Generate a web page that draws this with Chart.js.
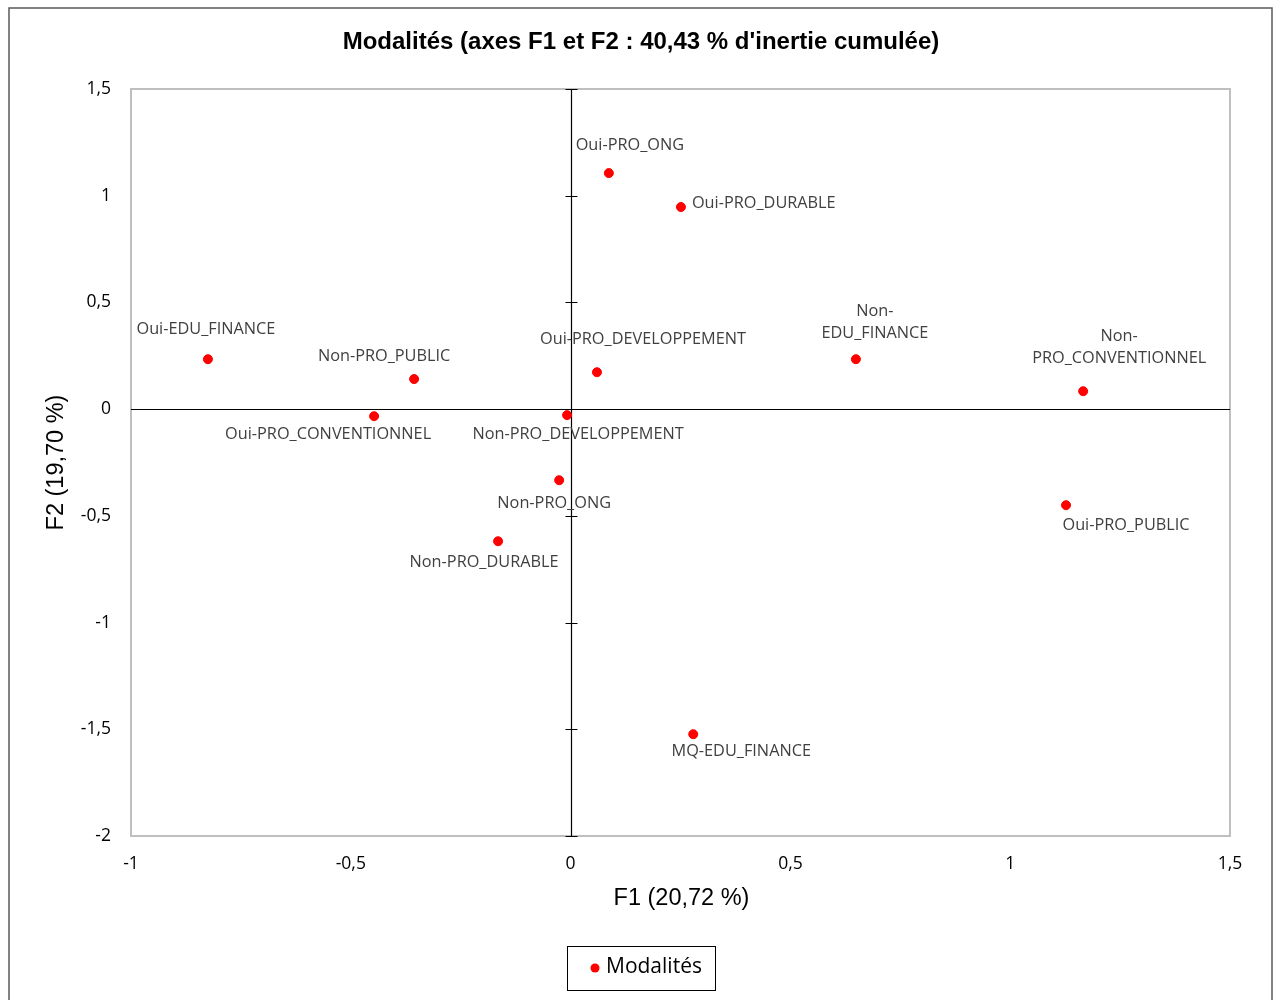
<!DOCTYPE html>
<html>
<head>
<meta charset="utf-8">
<script src="https://cdn.jsdelivr.net/npm/chart.js@4.4.1/dist/chart.umd.min.js"></script>
<style>
  html, body { margin: 0; padding: 0; background: #fff; }
  #wrap { width: 1273px; height: 1000px; position: relative; }
</style>
</head>
<body>
<div id="wrap"><canvas id="modalitesChart" width="1273" height="1000"></canvas></div>
<script>
// --- Data ---
const labels = [
    'Oui-PRO_ONG', 'Oui-PRO_DURABLE', 'Oui-EDU_FINANCE', 'Non-PRO_PUBLIC',
    'Oui-PRO_DEVELOPPEMENT', 'Non-EDU_FINANCE', 'Non-PRO_CONVENTIONNEL',
    'Oui-PRO_CONVENTIONNEL', 'Non-PRO_DEVELOPPEMENT', 'Non-PRO_ONG',
    'Non-PRO_DURABLE', 'Oui-PRO_PUBLIC', 'MQ-EDU_FINANCE'
];
const f1 = [0.087, 0.251, -0.825, -0.356, 0.060, 0.649, 1.166, -0.447, -0.008, -0.026, -0.165, 1.127, 0.279];
const f2 = [1.106, 0.947, 0.234, 0.141, 0.173, 0.234, 0.084, -0.033, -0.028, -0.333, -0.619, -0.450, -1.523];
const xTicks = [-1, -0.5, 0, 0.5, 1, 1.5];
const yTicks = [-2, -1.5, -1, -0.5, 0, 0.5, 1, 1.5];

// label placement (px offset of label centre from point), one line per entry
const labelPlacement = [
    [21, -28], [11, -4, 'left'], [-2, -30], [-30, -23],
    [46, -33], [19, -37], [36, -44],
    [-46, 18], [11, 19], [-5, 23],
    [-14, 21], [60, 20], [48, 17]
];

const fmt = v => String(v).replace('.', ',');
const LABEL_FONT = '16.3px "Open Sans", sans-serif';

// --- Plugin: frame, axes through origin, point labels, titles, legend ---
const decorations = {
    id: 'decorations',
    beforeDraw(chart) {
        const { ctx, chartArea: a } = chart;
        ctx.save();
        ctx.fillStyle = '#fff';
        ctx.fillRect(0, 0, chart.width, chart.height);
        ctx.strokeStyle = '#595959';
        ctx.lineWidth = 1.5;
        ctx.strokeRect(9, 8, 1263, 1100);
        ctx.strokeStyle = '#bfbfbf';
        ctx.lineWidth = 2;
        ctx.strokeRect(a.left, a.top, a.right - a.left, a.bottom - a.top);

        const xs = chart.scales.x, ys = chart.scales.y;
        const x0 = Math.round(xs.getPixelForValue(0)) + 0.5;
        const y0 = Math.round(ys.getPixelForValue(0)) + 0.5;
        ctx.strokeStyle = '#000';
        ctx.lineWidth = 1.2;
        ctx.beginPath();
        ctx.moveTo(a.left, y0); ctx.lineTo(a.right, y0);
        ctx.moveTo(x0, a.top); ctx.lineTo(x0, a.bottom);
        yTicks.forEach(v => {
            const y = Math.round(ys.getPixelForValue(v)) + 0.5;
            ctx.moveTo(x0 - 6, y); ctx.lineTo(x0 + 6, y);
        });
        ctx.stroke();
        ctx.restore();
    },
    afterDatasetsDraw(chart) {
        const { ctx } = chart;
        const meta = chart.getDatasetMeta(0);
        ctx.save();
        ctx.font = LABEL_FONT;
        ctx.fillStyle = '#404040';
        ctx.textBaseline = 'middle';
        meta.data.forEach((pt, i) => {
            const [dx, dy, align] = labelPlacement[i];
            const text = labels[i];
            ctx.textAlign = align || 'center';
            const x = pt.x + dx, y = pt.y + dy;
            if (dy < -35) {
                // wrapped after the hyphen, like the original
                const cut = text.indexOf('-') + 1;
                ctx.fillText(text.slice(0, cut), x, y - 11);
                ctx.fillText(text.slice(cut), x, y + 11);
            } else {
                ctx.fillText(text, x, y);
            }
        });
        ctx.restore();
    },
    afterDraw(chart) {
        const { ctx, chartArea: a } = chart;
        ctx.save();
        ctx.fillStyle = '#000';
        ctx.textAlign = 'center';
        ctx.textBaseline = 'middle';
        ctx.font = 'bold 24px "Liberation Sans", Arial, sans-serif';
        ctx.fillText("Modalités (axes F1 et F2 : 40,43 % d'inertie cumulée)", 641, 42);

        ctx.font = '23.5px "Liberation Sans", Arial, sans-serif';
        ctx.fillText('F1 (20,72 %)', (a.left + a.right) / 2 + 1, 899);
        ctx.save();
        ctx.translate(57, (a.top + a.bottom) / 2);
        ctx.rotate(-Math.PI / 2);
        ctx.fillText('F2 (19,70 %)', 0, 0);
        ctx.restore();

        // legend box
        ctx.strokeStyle = '#000';
        ctx.lineWidth = 1;
        ctx.strokeRect(567.5, 946.5, 148, 44);
        ctx.fillStyle = '#ff0000';
        ctx.beginPath();
        ctx.arc(595, 968, 4.5, 0, Math.PI * 2);
        ctx.fill();
        ctx.fillStyle = '#000';
        ctx.textAlign = 'left';
        ctx.font = '21px "Open Sans", sans-serif';
        ctx.fillText('Modalités', 606, 967);
        ctx.restore();
    }
};

const points = f1.map((x, i) => ({ x, y: f2[i] }));

new Chart(document.getElementById('modalitesChart'), {
    type: 'scatter',
    data: {
        datasets: [{
            label: 'Modalités',
            data: points,
            backgroundColor: '#ff0000',
            borderColor: '#ff0000',
            pointRadius: 4.5,
            pointHoverRadius: 4.5
        }]
    },
    options: {
        responsive: false,
        animation: false,
        layout: { padding: { top: 89, right: 43, left: 0, bottom: 0 } },
        plugins: {
            legend: { display: false },
            title: { display: false },
            tooltip: { enabled: false }
        },
        scales: {
            x: {
                type: 'linear',
                min: -1, max: 1.5,
                afterBuildTicks: s => { s.ticks = xTicks.map(v => ({ value: v })); },
                afterFit: s => { s.height = 164; },
                grid: { display: false, drawTicks: false },
                border: { display: false },
                ticks: {
                    padding: 18,
                    color: '#000',
                    font: { family: '"Open Sans", sans-serif', size: 17.5 },
                    callback: v => fmt(v)
                }
            },
            y: {
                type: 'linear',
                min: -2, max: 1.5,
                afterBuildTicks: s => { s.ticks = yTicks.map(v => ({ value: v })); },
                afterFit: s => { s.width = 131; },
                grid: { display: false, drawTicks: false },
                border: { display: false },
                ticks: {
                    padding: 20,
                    color: '#000',
                    font: { family: '"Open Sans", sans-serif', size: 17.5 },
                    callback: v => fmt(v)
                }
            }
        }
    },
    plugins: [decorations]
});
</script>
</body>
</html>
